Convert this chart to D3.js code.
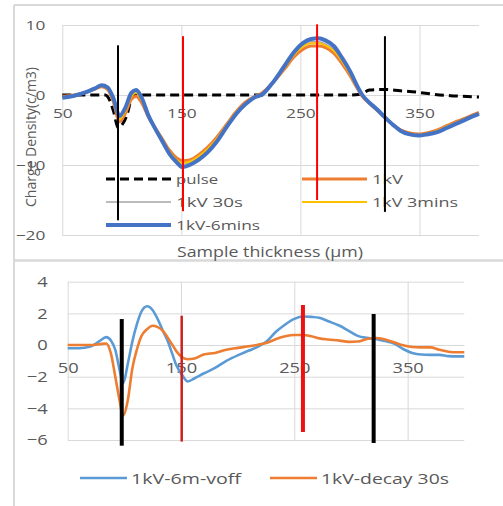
<!DOCTYPE html>
<html><head><meta charset="utf-8">
<script src="https://cdn.jsdelivr.net/npm/d3@7"></script>
<style>body{margin:0;background:#fff}svg{display:block}text{font-family:"Open Sans",sans-serif;fill:#595959}</style>
</head><body><svg id="c" width="503" height="506"></svg>
<script>
// ---------- DATA ----------
const xTicks = [50, 150, 250, 350];
const yTicksTop = [-20, -10, 0, 10];
const yTicksBot = [-6, -4, -2, 0, 2, 4];

const topX = [50,60,70,78,83,88,93,98,103,108,112,117,122,128,134,140,146,151,157,165,172,180,188,196,204,212,218,226,236,245,252,259,265,271,278,285,292,298,302,308,314,321,328,334,341,349,357,365,373,381,390,400];
const blue6min = [-0.4,-0.1,0.4,1.0,1.4,1.1,-0.5,-3.0,-1.8,0.3,0.7,-0.5,-2.8,-4.8,-6.6,-8.4,-9.6,-10.3,-10.0,-9.2,-8.2,-6.6,-4.6,-2.7,-1.3,-0.3,0.1,1.6,4.0,6.2,7.4,8.0,8.1,7.8,7.0,5.3,3.3,1.2,0.0,-1.1,-2.0,-3.2,-4.3,-5.1,-5.6,-5.8,-5.6,-5.3,-4.7,-4.1,-3.4,-2.7];
const orange1kV = [-0.2,0.0,0.4,0.9,1.2,0.8,-1.0,-3.8,-2.6,-0.6,-0.2,-1.2,-3.0,-4.7,-6.3,-7.9,-9.0,-9.4,-9.3,-8.5,-7.5,-6.0,-4.2,-2.4,-1.0,-0.2,0.3,1.6,3.6,5.5,6.5,7.0,7.0,6.8,6.0,4.5,2.7,0.9,-0.2,-1.2,-2.1,-3.2,-4.3,-5.0,-5.4,-5.6,-5.4,-5.0,-4.4,-3.8,-3.2,-2.5];
const gray30s = [-0.3,-0.1,0.4,1.0,1.3,1.0,-0.7,-3.4,-2.2,-0.1,0.4,-0.8,-2.9,-4.8,-6.5,-8.2,-9.4,-9.9,-9.7,-8.9,-7.9,-6.3,-4.4,-2.6,-1.2,-0.3,0.2,1.6,3.8,5.9,7.0,7.6,7.6,7.3,6.5,4.9,3.0,1.0,-0.1,-1.1,-2.0,-3.2,-4.3,-5.0,-5.5,-5.7,-5.5,-5.1,-4.6,-4.0,-3.3,-2.6];
const yellow3min = [-0.3,-0.1,0.4,0.9,1.3,0.9,-0.8,-3.5,-2.3,-0.2,0.3,-0.9,-2.9,-4.7,-6.4,-8.1,-9.3,-9.7,-9.5,-8.7,-7.7,-6.2,-4.3,-2.5,-1.1,-0.2,0.2,1.6,3.7,5.8,6.9,7.4,7.4,7.1,6.3,4.8,2.9,1.0,-0.1,-1.1,-2.0,-3.2,-4.3,-5.0,-5.5,-5.7,-5.5,-5.1,-4.5,-3.9,-3.3,-2.6];

const pulseX = [50,80,86,90,93,97,100,104,106,108.5,120,200,291,300,308,320,334,348,362,376,390,400];
const pulse = [0,0,0,-0.8,-2.3,-4.7,-4.3,-3.0,-1.8,0,0,0,0,0.1,0.7,0.8,0.6,0.4,0.1,-0.1,-0.2,-0.3];

const botX = [50,60,70,78,84,88,92,95,99,103,107,111,115,120,125,129,134,138,142,146,151,156,162,170,180,190,200,210,218,226,234,242,250,258,265,272,280,290,298,306,314,322,330,338,346,354,362,370,378,386,394,400];
const voff6m = [-0.2,-0.2,-0.1,0.25,0.5,0.3,-0.3,-1.3,-2.4,-1.2,0.2,1.3,2.1,2.45,2.2,1.7,0.9,0.3,-0.5,-1.3,-1.9,-2.3,-2.1,-1.8,-1.45,-1.0,-0.65,-0.35,-0.1,0.25,0.85,1.3,1.65,1.8,1.78,1.72,1.5,1.22,0.9,0.58,0.45,0.38,0.25,0.1,-0.25,-0.5,-0.6,-0.62,-0.62,-0.7,-0.72,-0.72];
const decay30s = [0,0,0,0.05,0.1,-0.5,-2.0,-3.2,-4.45,-3.5,-1.5,-0.3,0.55,1.0,1.22,1.15,0.9,0.5,0.05,-0.4,-0.78,-0.9,-0.85,-0.6,-0.5,-0.3,-0.18,-0.08,0.02,0.15,0.38,0.55,0.63,0.63,0.55,0.42,0.35,0.28,0.2,0.22,0.38,0.44,0.35,0.17,-0.02,-0.12,-0.15,-0.15,-0.3,-0.42,-0.46,-0.46];

// vertical marker lines (data units)
const topMarkX = [96.8, 151.4, 264, 321];
const topMarkY1 = [7.1, 8.4, 10.1, 8.4];
const topMarkY2 = [-17.9, -16.6, -15.0, -16.7];
const botMarkX = [97.7, 150.6, 257.6, 320];
const botMarkY1 = [1.64, 1.85, 2.53, 1.96];
const botMarkY2 = [-6.36, -6.1, -5.5, -6.19];

const topLegend = ["pulse", "1kV", "1kV 30s", "1kV 3mins", "1kV-6mins"];
const botLegend = ["1kV-6m-voff", "1kV-decay 30s"];

// ---------- DRAW ----------
const svg = d3.select("#c");
const GRID = "#d9d9d9";

// frames
svg.append("line").attr("x1",14).attr("x2",14).attr("y1",5).attr("y2",506).attr("stroke",GRID).attr("stroke-width",2);
svg.append("line").attr("x1",14).attr("x2",503).attr("y1",5).attr("y2",5).attr("stroke",GRID).attr("stroke-width",2);
svg.append("line").attr("x1",14).attr("x2",503).attr("y1",260.5).attr("y2",260.5).attr("stroke",GRID).attr("stroke-width",2.5);

function stretch(sel, k){
  sel.each(function(){
    const t = d3.select(this);
    const x = +t.attr("x") || 0;
    t.attr("x", x / k).attr("transform", `scale(${k},1)`);
  });
}

function panel(cfg){
  const {x, y, yTicks, fs, k, padX, padY} = cfg;
  const g = svg.append("g");
  const [x0, x1] = x.range();
  const [y0, y1] = y.range();
  // grids
  g.append("g").attr("transform", `translate(0,${y1})`)
    .call(d3.axisBottom(x).tickValues(xTicks).tickSize(y0 - y1).tickFormat(""))
    .call(a => a.select(".domain").remove())
    .selectAll("line").attr("stroke", GRID);
  g.append("g").attr("transform", `translate(${x0},0)`)
    .call(d3.axisRight(y).tickValues(yTicks).tickSize(x1 - x0).tickFormat(""))
    .call(a => a.select(".domain").remove())
    .selectAll("line").attr("stroke", GRID);
  // y labels
  const ya = g.append("g").attr("transform", `translate(${x0},0)`)
    .call(d3.axisLeft(y).tickValues(yTicks).tickSize(0).tickPadding(padY));
  ya.select(".domain").remove();
  ya.selectAll("text").attr("font-size", fs).attr("font-family", '"Open Sans",sans-serif').attr("fill", "#595959").call(stretch, k);
  // x labels at zero
  const xa = g.append("g").attr("transform", `translate(0,${y(0)})`)
    .call(d3.axisBottom(x).tickValues(xTicks).tickSize(0).tickPadding(padX));
  xa.select(".domain").remove();
  xa.selectAll("text").attr("font-size", fs).attr("font-family", '"Open Sans",sans-serif').attr("fill", "#595959").call(stretch, k);
  return g;
}

// ===== TOP =====
const xT = d3.scaleLinear([50, 400], [62.3, 479]);
const yT = d3.scaleLinear([-20, 10], [235, 25]);
panel({x: xT, y: yT, yTicks: yTicksTop, fs: 13, k: 1.33, padX: 14, padY: 17});

const lineT = (xs) => d3.line().x((d, i) => xT(xs[i])).y(d => yT(d)).curve(d3.curveMonotoneX);
const topSeries = [
  {v: pulse, xs: pulseX, c: "#000", w: 3, dash: "9,5"},
  {v: orange1kV, xs: topX, c: "#ED7D31", w: 3.2},
  {v: gray30s, xs: topX, c: "#A5A5A5", w: 1.6},
  {v: yellow3min, xs: topX, c: "#FFC000", w: 2},
  {v: blue6min, xs: topX, c: "#4472C4", w: 4}
];
topSeries.forEach(s => {
  svg.append("path").attr("d", lineT(s.xs)(s.v)).attr("fill", "none")
    .attr("stroke", s.c).attr("stroke-width", s.w).attr("stroke-dasharray", s.dash || null)
    .attr("stroke-linejoin", "round");
});

// top legend
const tl = [
  {c: 0, r: 0, s: 0, tw: 42},
  {c: 1, r: 0, s: 1, tw: 31},
  {c: 0, r: 1, s: 2, tw: 67},
  {c: 1, r: 1, s: 3, tw: 86},
  {c: 0, r: 2, s: 4, tw: 84}
];
const colX = [106, 302], rowY = [179, 202, 225];
tl.forEach((L, i) => {
  const s = topSeries[L.s];
  const lx = colX[L.c], ly = rowY[L.r];
  svg.append("line").attr("x1", lx).attr("x2", lx + 65).attr("y1", ly).attr("y2", ly)
    .attr("stroke", s.c).attr("stroke-width", s.w).attr("stroke-dasharray", s.dash || null);
  svg.append("text").attr("x", lx + 70).attr("y", ly + 4.6).attr("font-size", 13)
    .attr("textLength", L.tw).attr("lengthAdjust", "spacingAndGlyphs").text(topLegend[i]);
});

// top markers
const topMarkC = ["#000", "#ff0000", "#ff0000", "#000"];
topMarkX.forEach((m, i) => {
  svg.append("line").attr("x1", xT(m)).attr("x2", xT(m)).attr("y1", yT(topMarkY1[i])).attr("y2", yT(topMarkY2[i]))
    .attr("stroke", topMarkC[i]).attr("stroke-width", 2);
});

// titles
svg.append("text").attr("x", 270).attr("y", 256.5).attr("text-anchor", "middle").attr("font-size", 15)
  .attr("textLength", 186).attr("lengthAdjust", "spacingAndGlyphs").text("Sample thickness (μm)");
svg.append("text").attr("transform", "translate(36,137) rotate(-90)").attr("text-anchor", "middle").attr("font-size", 14)
  .attr("textLength", 140).attr("lengthAdjust", "spacingAndGlyphs").attr("fill", "#7f7f7f").text("Charge Density(c/m3)");

// ===== BOTTOM =====
const xB = d3.scaleLinear([50, 400], [67.7, 464.3]);
const yB = d3.scaleLinear([-6, 4], [440, 281.7]);
panel({x: xB, y: yB, yTicks: yTicksBot, fs: 15, k: 1.22, padX: 17.5, padY: 20});

const lineB = d3.line().x((d, i) => xB(botX[i])).y(d => yB(d)).curve(d3.curveMonotoneX);
const botSeries = [
  {v: voff6m, c: "#5B9BD5", w: 2.6},
  {v: decay30s, c: "#ED7D31", w: 2.6}
];
botSeries.forEach(s => {
  svg.append("path").attr("d", lineB(s.v)).attr("fill", "none").attr("stroke", s.c).attr("stroke-width", s.w).attr("stroke-linejoin", "round");
});

const botMarkC = ["#000", "#cc1f1f", "#ee1111", "#000"];
const botMarkW = [4, 2.5, 4, 4];
botMarkX.forEach((m, i) => {
  svg.append("line").attr("x1", xB(m)).attr("x2", xB(m)).attr("y1", yB(botMarkY1[i])).attr("y2", yB(botMarkY2[i]))
    .attr("stroke", botMarkC[i]).attr("stroke-width", botMarkW[i]);
});

// bottom legend
const bl = [{lx: 80, tw: 110}, {lx: 270, tw: 128}];
bl.forEach((L, i) => {
  svg.append("line").attr("x1", L.lx).attr("x2", L.lx + 47).attr("y1", 478).attr("y2", 478)
    .attr("stroke", botSeries[i].c).attr("stroke-width", 2.6);
  svg.append("text").attr("x", L.lx + 51).attr("y", 483.5).attr("font-size", 15)
    .attr("textLength", L.tw).attr("lengthAdjust", "spacingAndGlyphs").text(botLegend[i]);
});
</script></body></html>
